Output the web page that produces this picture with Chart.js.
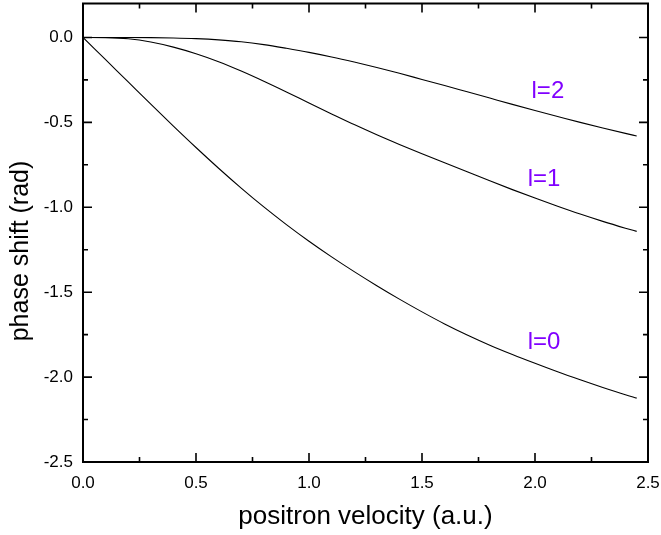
<!DOCTYPE html>
<html>
<head>
<meta charset="utf-8">
<script src="https://cdn.jsdelivr.net/npm/chart.js@4/dist/chart.umd.min.js"></script>
<style>
  html, body { margin: 0; padding: 0; background: #fff; }
  #wrap { width: 661px; height: 535px; }
</style>
</head>
<body>
<div id="wrap"><canvas id="phase-chart"></canvas></div>
<script>
// velocity (a.u.)
var velocity = [0, 0.1, 0.2, 0.3, 0.4, 0.5, 0.6, 0.7, 0.8, 0.9, 1.0, 1.1, 1.2,
  1.3, 1.4, 1.5, 1.6, 1.7, 1.8, 1.9, 2.0, 2.1, 2.2, 2.3, 2.4, 2.45];
// phase shifts (rad)
var shiftL0 = [0, -0.131, -0.262, -0.393, -0.522, -0.648, -0.77, -0.887, -0.998,
  -1.102, -1.2, -1.292, -1.379, -1.462, -1.541, -1.616, -1.687, -1.752, -1.812,
  -1.867, -1.919, -1.969, -2.016, -2.061, -2.104, -2.124];
var shiftL1 = [0, -0.001, -0.008, -0.027, -0.057, -0.096, -0.143, -0.198, -0.258,
  -0.321, -0.386, -0.45, -0.513, -0.573, -0.63, -0.685, -0.738, -0.791, -0.844,
  -0.896, -0.946, -0.994, -1.04, -1.083, -1.123, -1.142];
var shiftL2 = [0, 0, 0, -0.001, -0.003, -0.007, -0.014, -0.025, -0.042, -0.064,
  -0.088, -0.115, -0.145, -0.177, -0.211, -0.247, -0.283, -0.32, -0.357, -0.394,
  -0.43, -0.465, -0.5, -0.533, -0.565, -0.58];

var xTicks = [0, 0.5, 1.0, 1.5, 2.0, 2.5];
var yTicks = [-2.5, -2.0, -1.5, -1.0, -0.5, 0.0];
var curveNames = ['l=0', 'l=1', 'l=2'];
// where each curve name sits, in data units
var nameX = [2.04, 2.04, 2.057];
var nameY = [-1.795, -0.834, -0.318];

function pts(ys) {
  return velocity.map(function (v, i) { return { x: v, y: ys[i] }; });
}

function line(ys, name) {
  return {
    label: name,
    data: pts(ys),
    borderColor: '#000',
    borderWidth: 1.1,
    pointRadius: 0,
    showLine: true,
    fill: false,
    cubicInterpolationMode: 'monotone'
  };
}

// frame with inward ticks on four sides, axis titles and curve names
var framePlugin = {
  id: 'frame',
  afterDraw: function (chart) {
    var ctx = chart.ctx, a = chart.chartArea;
    var xs = chart.scales.x, ys = chart.scales.y;
    ctx.save();
    ctx.strokeStyle = '#000';
    ctx.lineWidth = 2;
    ctx.strokeRect(a.left, a.top, a.right - a.left, a.bottom - a.top);
    ctx.lineWidth = 1.6;
    ctx.beginPath();
    for (var v = 0; v <= 2.5001; v += 0.25) {
      var px = xs.getPixelForValue(v);
      var len = (Math.round(v * 4) % 2 == 0) ? 9 : 5;
      ctx.moveTo(px, a.bottom); ctx.lineTo(px, a.bottom - len);
      ctx.moveTo(px, a.top); ctx.lineTo(px, a.top + len);
    }
    for (var w = -2.5; w <= 0.2001; w += 0.25) {
      var py = ys.getPixelForValue(w);
      var len2 = (Math.round(w * 4) % 2 == 0) ? 9 : 5;
      ctx.moveTo(a.left, py); ctx.lineTo(a.left + len2, py);
      ctx.moveTo(a.right, py); ctx.lineTo(a.right - len2, py);
    }
    ctx.stroke();

    ctx.fillStyle = '#000';
    ctx.textAlign = 'center';
    ctx.textBaseline = 'middle';
    ctx.font = '26px "Liberation Sans", Arial, sans-serif';
    ctx.fillText('positron velocity (a.u.)', (a.left + a.right) / 2, 517);
    ctx.font = '25px "Liberation Sans", Arial, sans-serif';
    ctx.save();
    ctx.translate(21, 251);
    ctx.rotate(-Math.PI / 2);
    ctx.fillText('phase shift (rad)', 0, 0);
    ctx.restore();

    ctx.fillStyle = '#8000ff';
    ctx.font = '24px "Liberation Sans", Arial, sans-serif';
    curveNames.forEach(function (n, i) {
      ctx.fillText(n, xs.getPixelForValue(nameX[i]), ys.getPixelForValue(nameY[i]));
    });
    ctx.restore();
  }
};

var tickFont = { family: '"Liberation Sans", Arial, sans-serif', size: 17 };

new Chart(document.getElementById('phase-chart').getContext('2d'), {
  type: 'scatter',
  data: {
    datasets: [line(shiftL0, 'l=0'), line(shiftL1, 'l=1'), line(shiftL2, 'l=2')]
  },
  options: {
    responsive: true,
    maintainAspectRatio: false,
    animation: false,
    layout: { padding: { top: 3.5, right: 13, left: 0, bottom: 0 } },
    plugins: {
      legend: { display: false },
      tooltip: { enabled: false }
    },
    scales: {
      x: {
        type: 'linear',
        min: 0,
        max: 2.5,
        afterBuildTicks: function (s) { s.ticks = xTicks.map(function (v) { return { value: v }; }); },
        afterFit: function (s) {
          s.height = 73;
          s.paddingLeft = 0; s.paddingRight = 0;
        },
        grid: { display: false, drawTicks: false },
        border: { display: false },
        ticks: {
          padding: 11,
          color: '#000',
          font: tickFont,
          maxRotation: 0,
          callback: function (v) { return Number(v).toFixed(1); }
        }
      },
      y: {
        type: 'linear',
        min: -2.5,
        max: 0.2,
        afterBuildTicks: function (s) { s.ticks = yTicks.map(function (v) { return { value: v }; }); },
        afterFit: function (s) {
          s.width = 83;
          s.paddingTop = 0; s.paddingBottom = 0;
        },
        grid: { display: false, drawTicks: false },
        border: { display: false },
        ticks: {
          padding: 10,
          color: '#000',
          font: tickFont,
          callback: function (v) { return Number(v).toFixed(1); }
        }
      }
    }
  },
  plugins: [framePlugin]
});
</script>
</body>
</html>
